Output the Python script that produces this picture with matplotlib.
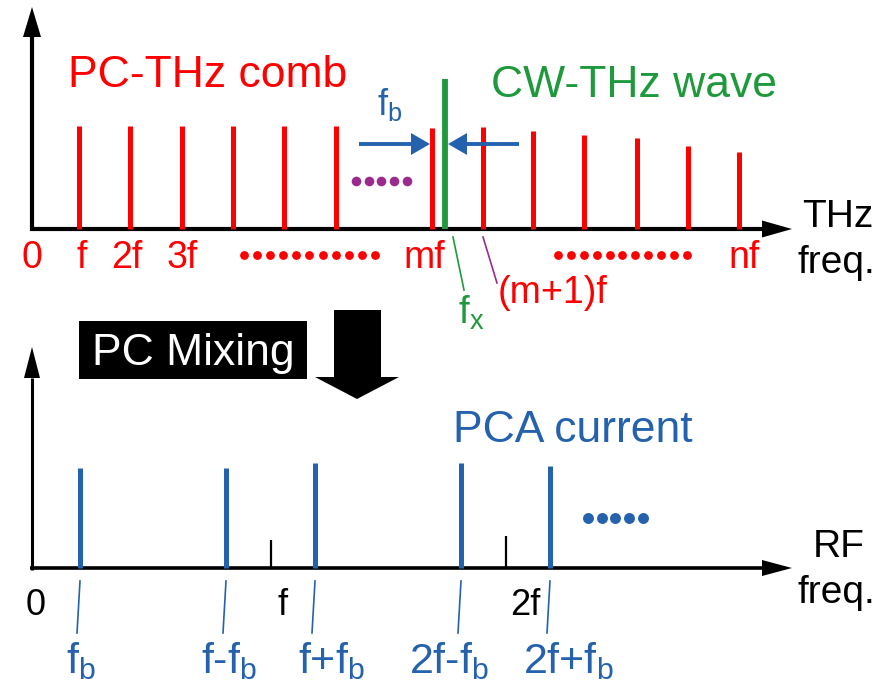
import matplotlib
matplotlib.use('Agg')
import matplotlib.pyplot as plt
from matplotlib.patches import Polygon, Rectangle

plt.rcParams['font.family'] = ['Liberation Sans', 'DejaVu Sans']
plt.rcParams['mathtext.fontset'] = 'custom'
plt.rcParams['mathtext.rm'] = 'Liberation Sans'
plt.rcParams['mathtext.it'] = 'Liberation Sans'

RED = '#ff0000'
GREEN = '#1e9a3c'
BLUE = '#2462ae'
PURPLE = '#9b2a8e'

# --- top panel: PC-THz comb (positions in px along axis, heights in px) ---
top_base = 229
comb_pos = [79, 130, 182, 233, 284, 336, 432, 483, 533, 584, 637, 688, 739]
comb_h = [103, 103, 103, 103, 103, 103, 101, 102, 98, 94, 91, 83, 77]
cw_pos = 445
cw_h = 150
top_ticks = ['0', 'f', '2f', '3f', 'mf', 'nf']
top_tick_pos = [32, 82, 127, 182, 424, 744]

# --- bottom panel: PCA current ---
bot_base = 568
pca_pos = [80, 226, 315, 461, 550]
pca_h = [100, 100, 105, 105, 102]
pca_labels = ['f$_\\mathregular{b}$', 'f-f$_\\mathregular{b}$', 'f+f$_\\mathregular{b}$',
              '2f-f$_\\mathregular{b}$', '2f+f$_\\mathregular{b}$']
pca_label_pos = [81, 229, 331, 449, 568]
harm_pos = [271, 506]
harm_h = [28, 32]
bot_ticks = ['0', 'f', '2f']
bot_tick_pos = [36, 283, 525]

fig = plt.figure(figsize=(8.95, 6.82), dpi=100)
ax = fig.add_axes([0, 0, 1, 1])
ax.set_xlim(0, 895)
ax.set_ylim(682, 0)
ax.axis('off')


def arrow(x0, y0, x1, y1, lw, hl, hw, color='black'):
    # straight shaft plus filled triangular head (pixel coords)
    dx, dy = x1 - x0, y1 - y0
    n = (dx ** 2 + dy ** 2) ** 0.5
    ux, uy = dx / n, dy / n
    bx, by = x1 - ux * hl, y1 - uy * hl
    ax.plot([x0, bx], [y0, by], color=color, lw=lw, solid_capstyle='butt')
    px, py = -uy * hw / 2, ux * hw / 2
    ax.add_patch(Polygon([(x1, y1), (bx + px, by + py), (bx - px, by - py)],
                         closed=True, color=color, lw=0))


# axes of the two spectra
arrow(32, top_base + 2, 32, 7, 3.0, 30, 18)
arrow(30, top_base, 792, top_base, 3.0, 30, 17)
arrow(32, bot_base + 2, 32, 347, 2.2, 31, 16)
arrow(30, bot_base, 792, bot_base, 2.6, 30, 16)

# comb lines
ax.vlines(comb_pos, top_base, [top_base - h for h in comb_h], color=RED, lw=3.6)
ax.vlines([cw_pos], top_base, top_base - cw_h, color=GREEN, lw=4.2)

# beat arrows
arrow(359, 144, 430, 144, 2.8, 19, 22, BLUE)
arrow(519, 144, 448, 144, 2.8, 19, 22, BLUE)
ax.text(377, 115, 'f$_\\mathregular{b}$', color=BLUE, fontsize=26, ha='left', va='baseline')

# dots
ax.scatter([356 + 12.75 * i for i in range(5)], [181] * 5, s=48, color=PURPLE, lw=0)
ax.scatter([244 + 13.1 * i for i in range(11)], [255] * 11, s=40, color=RED, lw=0)
ax.scatter([558 + 12.9 * i for i in range(11)], [255] * 11, s=40, color=RED, lw=0)
ax.scatter([588 + 13.75 * i for i in range(5)], [518] * 5, s=62, color=BLUE, lw=0)

# top texts
ax.text(68, 87, 'PC-THz comb', color=RED, fontsize=32, ha='left', va='baseline')
ax.text(491, 97, 'CW-THz wave', color=GREEN, fontsize=32, ha='left', va='baseline')
for lab, x in zip(top_ticks, top_tick_pos):
    ax.text(x, 268, lab, color=RED, fontsize=27, ha='center', va='baseline')
ax.text(802, 227, 'THz', fontsize=28, ha='left', va='baseline')
ax.text(798, 273, 'freq.', fontsize=28, ha='left', va='baseline')

ax.plot([453, 464], [237, 290], color=GREEN, lw=1.2)
ax.text(458, 324, 'f$_\\mathregular{x}$', color=GREEN, fontsize=28, ha='left', va='baseline')
ax.plot([483, 497], [237, 283], color=PURPLE, lw=1.2)
ax.text(498, 303, '(m+1)f', color=RED, fontsize=27, ha='left', va='baseline')

# PC mixing box and big arrow
ax.add_patch(Rectangle((79, 321), 228, 58, color='black', lw=0))
ax.text(92, 365, 'PC Mixing', color='white', fontsize=32, ha='left', va='baseline')
ax.add_patch(Polygon([(334, 310), (381, 310), (381, 377), (399, 377), (357, 399),
                      (315, 377), (334, 377)], closed=True, color='black', lw=0))

# bottom spectrum
ax.vlines(pca_pos, bot_base, [bot_base - h for h in pca_h], color=BLUE, lw=3.6)
ax.vlines(harm_pos, bot_base, [bot_base - h for h in harm_h], color='black', lw=1.6)
for x in pca_pos:
    ax.plot([x, x - 3], [581, 633], color=BLUE, lw=1.2)
for lab, x in zip(pca_labels, pca_label_pos):
    ax.text(x, 673, lab, color=BLUE, fontsize=31, ha='center', va='baseline')
for lab, x in zip(bot_ticks, bot_tick_pos):
    ax.text(x, 615, lab, fontsize=26, ha='center', va='baseline')
ax.text(453, 442, 'PCA current', color=BLUE, fontsize=32, ha='left', va='baseline')
ax.text(813, 557, 'RF', fontsize=28, ha='left', va='baseline')
ax.text(798, 603, 'freq.', fontsize=28, ha='left', va='baseline')

fig.savefig('out.png', dpi=100)
